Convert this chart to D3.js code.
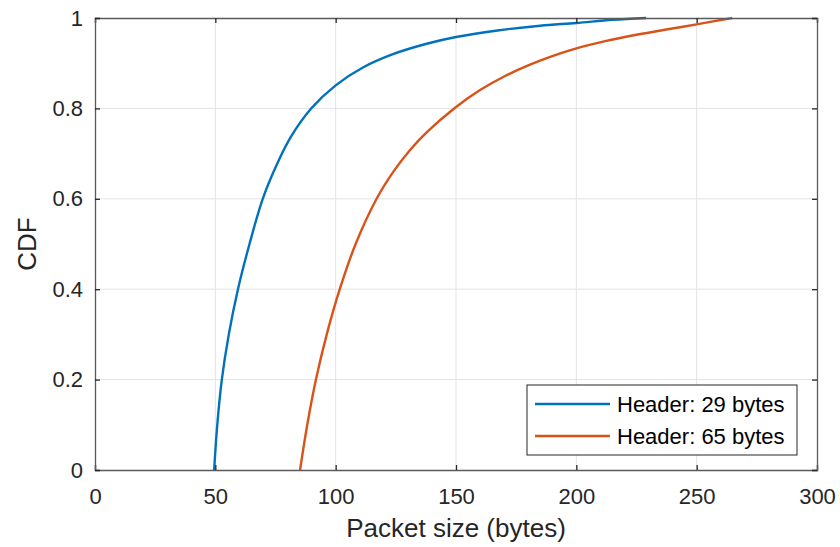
<!DOCTYPE html>
<html><head><meta charset="utf-8">
<script src="https://cdn.jsdelivr.net/npm/d3@7"></script>
<style>body{margin:0;background:#fff}svg{display:block}text{font-family:Arial,"Liberation Sans",sans-serif;fill:#262626}</style>
</head><body><svg id="c" width="840" height="547"></svg>
<script>
const xTicks = [0,50,100,150,200,250,300];
const yTicks = [0,0.2,0.4,0.6,0.8,1];
const yTickLabels = ["0","0.2","0.4","0.6","0.8","1"];
const seriesNames = ["Header: 29 bytes","Header: 65 bytes"];
const seriesColors = ["#0072BD","#D95319"];
const blueX = [49.5,50.8,52.7,55.6,59.4,64.2,69.7,75.6,81.5,90,100,111.5,123.8,137.8,150,168,185,200,215,229];
const blueY = [0,0.1,0.2,0.3,0.4,0.5,0.6,0.6765,0.738,0.8007,0.851,0.891,0.92,0.943,0.958,0.973,0.983,0.989,0.996,1];
const orangeX = [85.2,88.2,91.8,96.3,101.7,108.3,117,124,131,138,149.5,160,170,180,193,200,212,225,238,250,264.8];
const orangeY = [0,0.1,0.2,0.3,0.4,0.5,0.6,0.66,0.7085,0.748,0.801,0.8405,0.8705,0.895,0.921,0.933,0.949,0.963,0.975,0.986,1];

const svg = d3.select("#c");
const L=95,R=817,T=18,B=470;
const x = d3.scaleLinear().domain([0,300]).range([L,R]);
const y = d3.scaleLinear().domain([0,1]).range([B,T]);

// grid
svg.append("g").selectAll("line").data(xTicks.slice(1,-1)).join("line")
  .attr("x1",d=>x(d)).attr("x2",d=>x(d)).attr("y1",T).attr("y2",B)
  .attr("stroke","#e3e3e3").attr("stroke-width",1);
svg.append("g").selectAll("line").data(yTicks.slice(1,-1)).join("line")
  .attr("y1",d=>y(d)).attr("y2",d=>y(d)).attr("x1",L).attr("x2",R)
  .attr("stroke","#e3e3e3").attr("stroke-width",1);

// lines
const line = d3.line().x(d=>x(d[0])).y(d=>y(d[1])).curve(d3.curveCatmullRom.alpha(0.5));
const series = [d3.zip(blueX,blueY), d3.zip(orangeX,orangeY)];
series.forEach((s,i)=>{
  svg.append("path").datum(s).attr("d",line).attr("fill","none")
    .attr("stroke",seriesColors[i]).attr("stroke-width",2.4);
});

// axes with inward ticks
const ax = d3.axisBottom(x).tickValues(xTicks).tickSize(-5).tickPadding(18).tickFormat(d3.format("d"));
svg.append("g").attr("transform",`translate(0,${B})`).call(ax);
const axT = d3.axisTop(x).tickValues(xTicks).tickSize(-5).tickFormat("");
svg.append("g").attr("transform",`translate(0,${T})`).call(axT);
const ay = d3.axisLeft(y).tickValues(yTicks).tickSize(-5).tickPadding(12).tickFormat((d,i)=>yTickLabels[i]);
svg.append("g").attr("transform",`translate(${L},0)`).call(ay);
const ayR = d3.axisRight(y).tickValues(yTicks).tickSize(-5).tickFormat("");
svg.append("g").attr("transform",`translate(${R},0)`).call(ayR);
svg.selectAll(".domain").attr("stroke","#5a5a5a").attr("stroke-width",1.3);
svg.selectAll(".tick line").attr("stroke","#262626").attr("stroke-width",1.3);
svg.selectAll(".tick text").attr("font-size",22).style("fill","#262626").attr("font-family","Arial, 'Liberation Sans', sans-serif");

// labels
svg.append("text").attr("x",(L+R)/2).attr("y",537).attr("text-anchor","middle")
  .attr("font-size",26).text("Packet size (bytes)");
svg.append("text").attr("transform",`translate(36,${(T+B)/2}) rotate(-90)`).attr("text-anchor","middle")
  .attr("font-size",26).text("CDF");

// legend
const lg = svg.append("g");
lg.append("rect").attr("x",527).attr("y",385).attr("width",270).attr("height",70)
  .attr("fill","#fff").attr("stroke","#262626").attr("stroke-width",1);
seriesNames.forEach((n,i)=>{
  const yy = 404 + i*32;
  lg.append("line").attr("x1",535).attr("x2",610).attr("y1",yy).attr("y2",yy)
    .attr("stroke",seriesColors[i]).attr("stroke-width",2.4);
  lg.append("text").attr("x",617).attr("y",yy+8).attr("font-size",22).style("fill","#000").text(n);
});
</script></body></html>
